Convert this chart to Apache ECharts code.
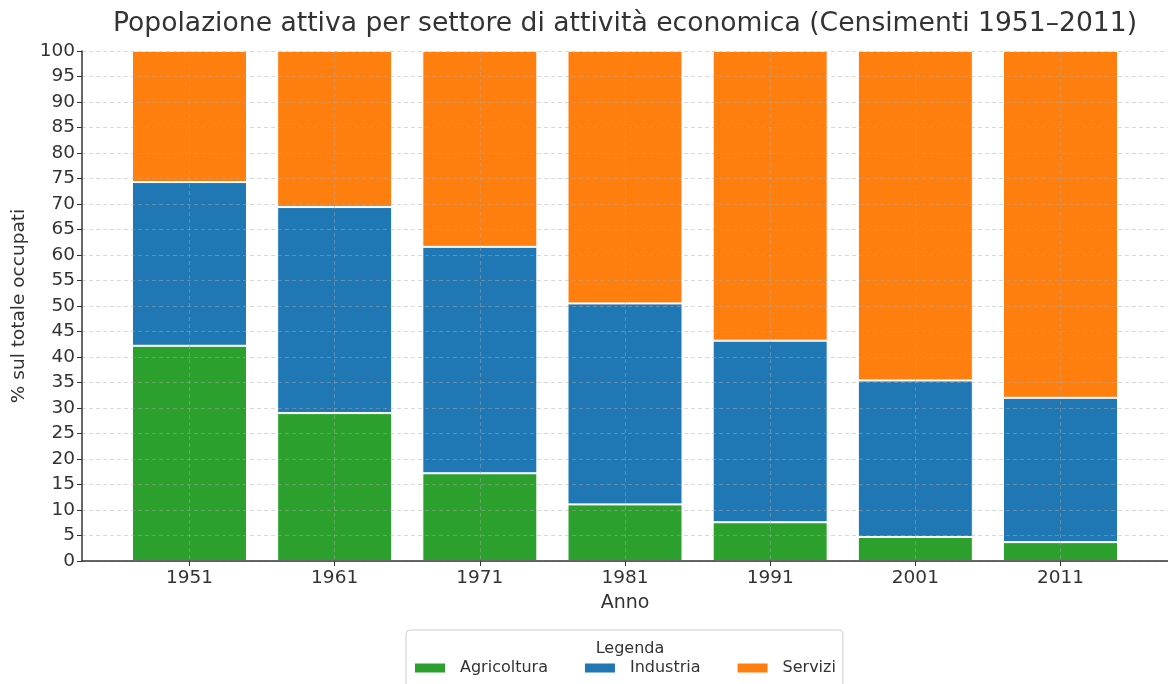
<!DOCTYPE html>
<html>
<head>
<meta charset="utf-8">
<script src="https://cdn.jsdelivr.net/npm/echarts@6/dist/echarts.min.js"></script>
<style>
html,body{margin:0;padding:0;background:#fff;}
#chart{width:1168px;height:684px;}
</style>
</head>
<body>
<div id="chart"></div>
<script>
const categories = ['1951','1961','1971','1981','1991','2001','2011'];
const agricoltura = [42.2, 29.0, 17.2, 11.1, 7.6, 4.7, 3.7];
const industria  = [32.1, 40.4, 44.4, 39.4, 35.6, 30.7, 28.3];
const servizi    = [25.7, 30.6, 38.4, 49.5, 56.8, 64.6, 68.0];
const yTicks = [0,5,10,15,20,25,30,35,40,45,50,55,60,65,70,75,80,85,90,95,100];

const idx = categories.map((c, i) => i);
const FONT = 'DejaVu Sans';
const gridLine = { show: true, lineStyle: { type: [4, 3], color: 'rgba(170,170,170,0.45)', width: 1 } };

const chart = echarts.init(document.getElementById('chart'), null, { renderer: 'canvas' });
const mkSeries = (name, data, color) => ({
  name, type: 'bar', stack: 'tot', data: data, barWidth: 115,
  xAxisIndex: 0, yAxisIndex: 0,
  itemStyle: { color, borderColor: '#ffffff', borderWidth: 1 },
  emphasis: { disabled: true }
});
chart.setOption({
  animation: false,
  textStyle: { fontFamily: FONT },
  title: [
    { text: 'Popolazione attiva per settore di attività economica (Censimenti 1951–2011)',
      left: 620, top: 6, textAlign: 'center',
      textStyle: { fontFamily: FONT, fontSize: 26.6, fontWeight: 'normal', color: '#333' } },
    { text: 'Legenda', left: 625, top: 636, textAlign: 'center',
      textStyle: { fontFamily: FONT, fontSize: 16, fontWeight: 'normal', color: '#333' } }
  ],
  legend: {
    left: 406, top: 630, orient: 'horizontal',
    padding: [30, 7, 14, 7],
    borderColor: '#cccccc', borderWidth: 1, borderRadius: 4,
    itemWidth: 32, itemHeight: 11, itemGap: 35,
    icon: 'rect',
    textStyle: { fontFamily: FONT, fontSize: 16, color: '#333', padding: [0, 0, 0, 9] },
    data: ['Agricoltura', 'Industria', 'Servizi']
  },
  grid: [
    { left: 116.9, right: 34.9, top: 51, bottom: 123, containLabel: false },
    { left: 82, right: 0, top: 51, bottom: 123, containLabel: false }
  ],
  xAxis: [
    { type: 'category', gridIndex: 0, data: categories, boundaryGap: true, show: false },
    {
      type: 'value', gridIndex: 1, min: -0.74, max: 6.74, z: 3,
      name: 'Anno', nameLocation: 'middle', nameGap: 33,
      nameTextStyle: { fontFamily: FONT, fontSize: 19, color: '#333' },
      axisLine: { show: true, onZero: false, lineStyle: { color: '#333', width: 1.5 } },
      axisTick: { show: true, length: 5, customValues: idx, lineStyle: { color: '#333' } },
      axisLabel: { customValues: idx, formatter: v => categories[Math.round(v)] ?? '',
        fontFamily: FONT, fontSize: 18.5, color: '#333', margin: 8 },
      splitLine: gridLine
    }
  ],
  yAxis: [
    { type: 'value', gridIndex: 0, min: 0, max: 100, show: false },
    {
      type: 'value', gridIndex: 1, min: 0, max: 100, interval: 5, z: 3,
      name: '% sul totale occupati', nameLocation: 'middle', nameGap: 52, nameRotate: 90,
      nameTextStyle: { fontFamily: FONT, fontSize: 18.5, color: '#333' },
      axisLine: { show: true, onZero: false, lineStyle: { color: '#333', width: 1.5 } },
      axisTick: { show: true, length: 5, lineStyle: { color: '#333' } },
      axisLabel: { fontFamily: FONT, fontSize: 18.5, color: '#333', margin: 7,
        formatter: v => yTicks.includes(v) ? String(v) : '' },
      splitLine: gridLine
    }
  ],
  series: [
    mkSeries('Agricoltura', agricoltura, '#2ca02c'),
    mkSeries('Industria', industria, '#1f77b4'),
    mkSeries('Servizi', servizi, '#ff7f0e')
  ]
});
</script>
</body>
</html>
